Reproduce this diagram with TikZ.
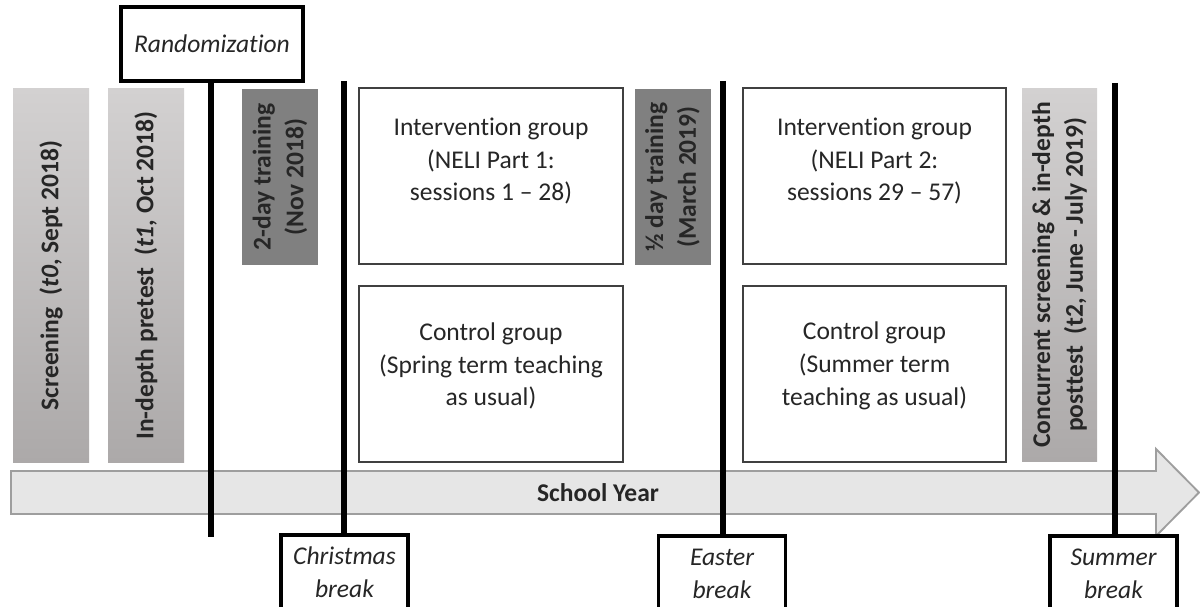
\documentclass[tikz,border=0pt]{standalone}
\usepackage{fontspec}
\setmainfont{Carlito}[Ligatures={NoCommon}]
\usetikzlibrary{positioning}
\definecolor{barlight}{RGB}{211,209,209}
\definecolor{bardark}{RGB}{172,169,169}
\definecolor{traingray}{RGB}{128,128,128}
\definecolor{arrowfill}{RGB}{230,230,230}
\definecolor{arrowline}{RGB}{158,158,158}
\definecolor{boxline}{RGB}{64,64,64}
\definecolor{textdark}{RGB}{38,38,38}
\newcommand{\pxu}{0.15mm}
\newcommand{\bodyfont}{\fontsize{10.9}{14}\selectfont}

\begin{document}
\begin{tikzpicture}[x=0.15mm, y=-0.15mm,
  every node/.style={font=\bodyfont, text=textdark, inner sep=0pt},
  testbar/.style={top color=barlight, bottom color=bardark, minimum width=76*\pxu, minimum height=373*\pxu},
  trainbar/.style={fill=traingray, minimum width=76*\pxu, minimum height=176*\pxu},
  bartext/.style={rotate=90, align=center, font=\bodyfont\bfseries},
  groupbox/.style={draw=boxline, line width=0.6pt, fill=white, minimum width=264*\pxu, minimum height=176*\pxu},
  grouptext/.style={align=center},
  breakbox/.style={draw=black, line width=1.4pt, fill=white, minimum width=127*\pxu, align=center, font=\bodyfont\itshape},
  breakline/.style={black, line width=2.5pt}]
\clip (0,0) rectangle (1200,607);
% School year arrow
\draw[arrowline, fill=arrowfill, line width=0.8pt] (11,471) -- (1156,471) -- (1156,449) -- (1199,492.5) -- (1156,536) -- (1156,514) -- (11,514) -- cycle;
\node[font=\bodyfont\bfseries] (year) at (598,492.5) {School Year};
% Test and training bars
\node[testbar] (screen) at (51,275.5) {};
\node[testbar] (pretest) at (146,275.5) {};
\node[trainbar] (train1) at (280,177) {};
\node[trainbar] (train2) at (672.5,177) {};
\node[testbar, minimum width=75*\pxu] (posttest) at (1059.5,275) {};
\node[bartext] (screentxt) at (screen.center) {Screening~ (\textit{t0}, Sept 2018)};
\node[bartext] (pretesttxt) at (pretest.center) {In-depth pretest~ (\textit{t1}, Oct 2018)};
\node[bartext] (train1txt) at (train1.center) {2-day training\\(Nov 2018)};
\node[bartext] (train2txt) at (train2.center) {\textonehalf{} day training\\(March 2019)};
\node[bartext] (posttesttxt) at (posttest.center) {Concurrent screening \& in-depth\\posttest~ (t2, June - July 2019)};
% Groups
\node[groupbox] (int1) at (491,176) {};
\node[groupbox] (ctl1) at (491,374) {};
\node[groupbox, minimum width=263*\pxu] (int2) at (874.5,176) {};
\node[groupbox, minimum width=263*\pxu] (ctl2) at (874.5,374) {};
\node[grouptext] (int1txt) at (491,161) {Intervention group\\(NELI Part 1:\\sessions 1 -- 28)};
\node[grouptext] (ctl1txt) at (491,366) {Control group\\(Spring term teaching\\as usual)};
\node[grouptext] (int2txt) at (874.5,161) {Intervention group\\(NELI Part 2:\\sessions 29 -- 57)};
\node[grouptext] (ctl2txt) at (874.5,366) {Control group\\(Summer term\\teaching as usual)};
% Randomization and breaks
\node[breakbox, minimum width=182*\pxu, minimum height=74*\pxu] (random) at (212,44) {Randomization};
\node[breakbox, minimum height=75*\pxu] (xmas) at (344.5,572.5) {Christmas\\break};
\node[breakbox, minimum height=75*\pxu] (easter) at (722,573.5) {Easter\\break};
\node[breakbox, minimum height=75*\pxu] (summer) at (1113.5,573.5) {Summer\\break};
\coordinate (randend) at (211,537);
\coordinate (xmastop) at (344,81);
\coordinate (eastertop) at (723,81);
\coordinate (summertop) at (1115,83);
\draw[breakline] (random.south -| randend) -- (randend);
\draw[breakline] (xmastop) -- (xmastop |- xmas.north);
\draw[breakline] (eastertop) -- (eastertop |- easter.north);
\draw[breakline] (summertop) -- (summertop |- summer.north);
\end{tikzpicture}
\end{document}
